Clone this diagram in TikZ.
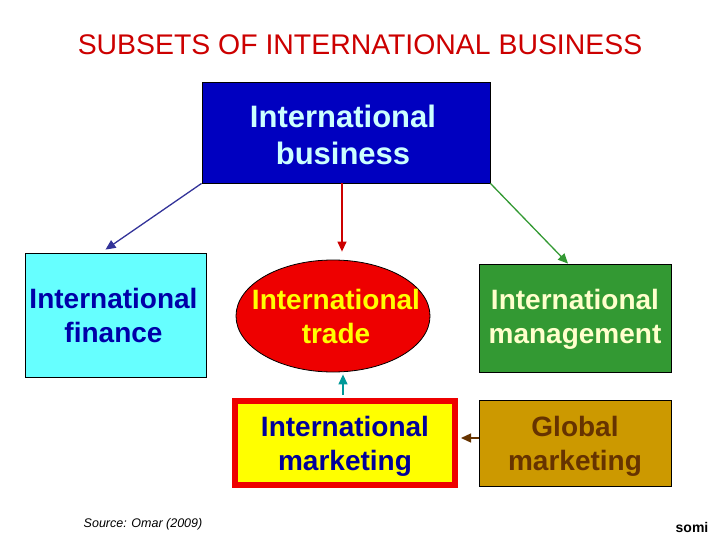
\documentclass[tikz,border=0pt]{standalone}
\usepackage{fontspec}
\setmainfont{Liberation Sans}
\usetikzlibrary{shapes.geometric,arrows.meta}
\definecolor{titlered}{HTML}{CC0000}
\definecolor{ibfill}{HTML}{0000C0}
\definecolor{ibtext}{HTML}{CCFFFF}
\definecolor{finfill}{HTML}{66FFFF}
\definecolor{fintext}{HTML}{0000A8}
\definecolor{trfill}{HTML}{EE0000}
\definecolor{trtext}{HTML}{FFFF00}
\definecolor{mgfill}{HTML}{339933}
\definecolor{mgtext}{HTML}{FFFFCC}
\definecolor{glfill}{HTML}{CC9900}
\definecolor{gltext}{HTML}{663300}
\definecolor{mkfill}{HTML}{FFFF00}
\definecolor{mkborder}{HTML}{EE0000}
\definecolor{mktext}{HTML}{000099}
\definecolor{arblue}{HTML}{333399}
\definecolor{arred}{HTML}{CC0000}
\definecolor{argreen}{HTML}{339933}
\definecolor{arteal}{HTML}{009999}
\definecolor{arbrown}{HTML}{663300}
\tikzset{
  box/.style={draw=black, line width=0.8pt, inner sep=0pt},
  boxtext/.style={inner sep=0pt, align=center, font=\bfseries\fontsize{28}{34}\selectfont},
  conn/.style={line width=1.3pt, -{Triangle[length=10pt,width=9pt]}},
}
\begin{document}
\begin{tikzpicture}[x=1pt,y=-1pt]
\useasboundingbox (0,0) rectangle (720,540);
\node[text=titlered, font=\fontsize{28.4}{32}\selectfont] (title) at (360,45) {SUBSETS OF INTERNATIONAL BUSINESS};
% boxes
\node[box, fill=ibfill, minimum width=288pt, minimum height=101pt] (ib) at (346,132.5) {};
\node[box, fill=finfill, minimum width=181pt, minimum height=124pt] (fin) at (115.5,315) {};
\node[box, ellipse, fill=trfill, minimum width=194pt, minimum height=112pt] (tr) at (333,316) {};
\node[box, fill=mgfill, minimum width=192pt, minimum height=108pt] (mg) at (575,318) {};
\node[box, fill=glfill, minimum width=192pt, minimum height=86pt] (gl) at (575,443) {};
\node[box, draw=mkborder, line width=6pt, fill=mkfill, minimum width=220pt, minimum height=84pt] (mk) at (345,443) {};
% texts
\node[boxtext, text=ibtext, font=\bfseries\fontsize{31}{37}\selectfont] (ibt) at ([xshift=-3pt,yshift=-2pt]ib.center) {International\\ business};
\node[boxtext, text=fintext] (fint) at ([xshift=-2pt]fin.center) {International\\ finance};
\node[boxtext, text=trtext] (trt) at ([xshift=3pt]tr.center) {International\\ trade};
\node[boxtext, text=mgtext] (mgt) at ([yshift=-1pt]mg.center) {International\\ management};
\node[boxtext, text=gltext] (glt) at ([yshift=-3pt]gl.center) {Global\\ marketing};
\node[boxtext, text=mktext] (mkt) at ([yshift=-3pt]mk.center) {International\\ marketing};
% connectors
\draw[conn, arblue] (ib.south west) -- ([xshift=-10pt,yshift=3pt]fin.north);
\draw[conn, arred] ([xshift=-4pt]ib.south) -- ([xshift=-4pt,yshift=8pt]ib.south |- tr.north);
\draw[conn, argreen] (ib.south east) -- ([xshift=-7pt]mg.north);
\draw[conn, arteal] ([xshift=-2pt,yshift=3pt]mk.north) -- ([xshift=-2pt,yshift=-2pt]mk.north |- tr.south);
\draw[conn, arbrown] ([yshift=5pt]gl.west) -- ([xshift=3pt,yshift=5pt]mk.east);
\node[font=\itshape\fontsize{12.5}{15}\selectfont] (src) at (143,524) {Source: Omar (2009)};
\node[font=\bfseries\fontsize{14}{16}\selectfont] (somi) at (692,527) {somi};
\end{tikzpicture}
\end{document}
